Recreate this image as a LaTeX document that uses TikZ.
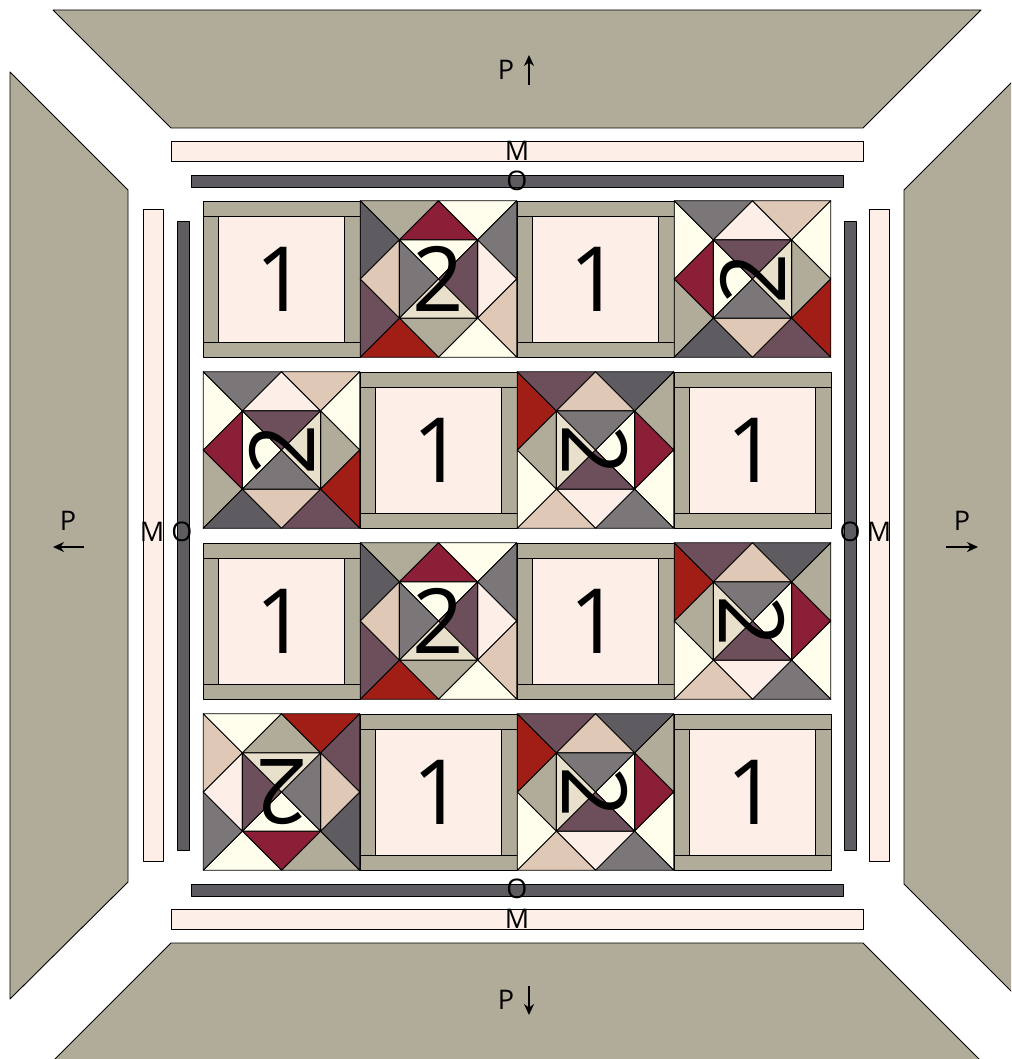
\documentclass[tikz,border=0pt]{standalone}
\usepackage{fontspec}
\setmainfont{Open Sans}
\usetikzlibrary{arrows.meta}
\definecolor{qolive}{HTML}{B1AC99}
\definecolor{qpink}{HTML}{FDEEE8}
\definecolor{qdark}{HTML}{5E5C61}
\definecolor{qcrimson}{HTML}{8C1F38}
\definecolor{qred}{HTML}{A01E16}
\definecolor{qcream}{HTML}{FFFDEC}
\definecolor{qplum}{HTML}{6D4F5C}
\definecolor{qmid}{HTML}{7B7678}
\definecolor{qtan}{HTML}{DFC9B6}
\definecolor{qbeige}{HTML}{E9E0CC}
\newcommand\bh{78.25}
\newcommand\bq{39.125}
\tikzset{
  piece/.style={draw=black, line width=0.9pt, line join=round},
  biglabel/.style={inner sep=0pt, font=\fontsize{90}{90}\selectfont},
  smalllabel/.style={inner sep=0pt, font=\fontsize{27}{27}\selectfont},
  parrow/.style={line width=2.2pt, -{Stealth[length=11pt,width=10pt]}}
}
\newcommand\qtri[4]{\filldraw[piece, fill=#1] #2 -- #3 -- #4 -- cycle;}
% block 2: center x, center y, rotation, name
\newcommand\blocktwo[4]{%
 \begin{scope}[shift={(#1,#2)}, rotate=#3]
  \qtri{qolive}{(-\bh,-\bh)}{(0,-\bh)}{(-\bq,-\bq)}
  \qtri{qdark}{(-\bh,-\bh)}{(-\bq,-\bq)}{(-\bh,0)}
  \qtri{qcrimson}{(0,-\bh)}{(-\bq,-\bq)}{(\bq,-\bq)}
  \qtri{qcream}{(0,-\bh)}{(\bh,-\bh)}{(\bq,-\bq)}
  \qtri{qmid}{(\bh,-\bh)}{(\bh,0)}{(\bq,-\bq)}
  \qtri{qpink}{(\bh,0)}{(\bq,-\bq)}{(\bq,\bq)}
  \qtri{qtan}{(\bh,0)}{(\bh,\bh)}{(\bq,\bq)}
  \qtri{qcream}{(\bh,\bh)}{(0,\bh)}{(\bq,\bq)}
  \qtri{qolive}{(0,\bh)}{(-\bq,\bq)}{(\bq,\bq)}
  \qtri{qred}{(0,\bh)}{(-\bh,\bh)}{(-\bq,\bq)}
  \qtri{qplum}{(-\bh,\bh)}{(-\bh,0)}{(-\bq,\bq)}
  \qtri{qtan}{(-\bh,0)}{(-\bq,-\bq)}{(-\bq,\bq)}
  \qtri{qcream}{(-\bq,-\bq)}{(\bq,-\bq)}{(0,0)}
  \qtri{qmid}{(-\bq,-\bq)}{(-\bq,\bq)}{(0,0)}
  \qtri{qplum}{(\bq,-\bq)}{(\bq,\bq)}{(0,0)}
  \qtri{qbeige}{(-\bq,\bq)}{(\bq,\bq)}{(0,0)}
  \node[biglabel, transform shape] (#4) at (0,0) {2};
 \end{scope}}
% block 1: left x, top y, name
\newcommand\blockone[3]{%
 \begin{scope}[shift={(#1,#2)}]
  \filldraw[piece, fill=qolive] (0,0) rectangle (157,15);
  \filldraw[piece, fill=qolive] (0,141) rectangle (157,156);
  \filldraw[piece, fill=qolive] (0,15) rectangle (15,141);
  \filldraw[piece, fill=qolive] (141.5,15) rectangle (157,141);
  \filldraw[piece, fill=qpink] (15,15) rectangle (141.5,141);
  \node[biglabel] (#3) at (78.5,78) {1};
 \end{scope}}
\begin{document}
\begin{tikzpicture}[x=1pt, y=-1pt]
\useasboundingbox (0,0) rectangle (1011,1059);
\clip (0,0) rectangle (1011,1059);
\fill[white] (0,0) rectangle (1011,1059);
% outer border P
\filldraw[piece, fill=qolive] (53,10) -- (981,10) -- (863,128) -- (171,128) -- cycle;
\filldraw[piece, fill=qolive] (10,72) -- (128,190) -- (128,882) -- (10,999) -- cycle;
\filldraw[piece, fill=qolive] (904,190) -- (1100,-6) -- (1100,1080) -- (904,884) -- cycle;
\filldraw[piece, fill=qolive] (171,943) -- (863,943) -- (1000,1080) -- (34,1080) -- cycle;
% M strips
\filldraw[piece, fill=qpink] (171,141) rectangle (863,161);
\filldraw[piece, fill=qpink] (171,909) rectangle (863,929);
\filldraw[piece, fill=qpink] (143,209) rectangle (163,861);
\filldraw[piece, fill=qpink] (869,209) rectangle (889,861);
% O strips
\filldraw[piece, fill=qdark] (191,175) rectangle (843,187);
\filldraw[piece, fill=qdark] (191,884) rectangle (843,896);
\filldraw[piece, fill=qdark] (177,221) rectangle (189,850);
\filldraw[piece, fill=qdark] (844,221) rectangle (856,850);
% row 1
\blockone{203}{201}{b11}
\blocktwo{438.5}{279}{0}{b12}
\blockone{517}{201}{b13}
\blocktwo{752.5}{279}{90}{b14}
% row 2
\blocktwo{281.5}{450}{90}{b21}
\blockone{360}{372}{b22}
\blocktwo{595.5}{450}{-90}{b23}
\blockone{674}{372}{b24}
% row 3
\blockone{203}{543}{b31}
\blocktwo{438.5}{621}{0}{b32}
\blockone{517}{543}{b33}
\blocktwo{752.5}{621}{-90}{b34}
% row 4
\blocktwo{281.5}{792}{180}{b41}
\blockone{360}{714}{b42}
\blocktwo{595.5}{792}{-90}{b43}
\blockone{674}{714}{b44}
% labels M / O
\node[smalllabel] (mtop) at (517,151) {M};
\node[smalllabel] (otop) at (517,181) {O};
\node[smalllabel] (obot) at (517,889) {O};
\node[smalllabel] (mbot) at (517,919) {M};
\node[smalllabel] (mleft) at (152,532) {M};
\node[smalllabel] (oleft) at (182,532) {O};
\node[smalllabel] (oright) at (850,532) {O};
\node[smalllabel] (mright) at (879,532) {M};
% labels P with arrows
\node[smalllabel] (ptop) at (506,70) {P};
\node[smalllabel] (pbot) at (506,1000) {P};
\node[smalllabel] (pleft) at (68,521) {P};
\node[smalllabel] (pright) at (962,521) {P};
\coordinate (atop1) at (529,85);
\coordinate (atop2) at (529,55);
\coordinate (abot1) at (529,986);
\coordinate (abot2) at (529,1015);
\coordinate (aleft1) at (84,547);
\coordinate (aleft2) at (53,547);
\coordinate (aright1) at (946,547);
\coordinate (aright2) at (978,547);
\draw[parrow] (atop1) -- (atop2);
\draw[parrow] (abot1) -- (abot2);
\draw[parrow] (aleft1) -- (aleft2);
\draw[parrow] (aright1) -- (aright2);
\end{tikzpicture}
\end{document}
